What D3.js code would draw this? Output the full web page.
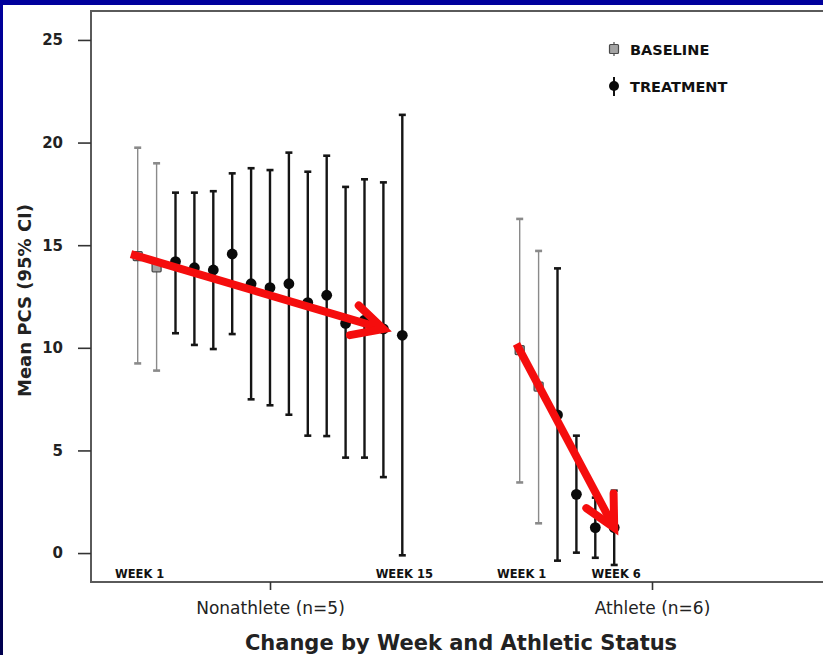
<!DOCTYPE html>
<html>
<head>
<meta charset="utf-8">
<script src="https://cdn.jsdelivr.net/npm/d3@7"></script>
<style>
  html, body { margin: 0; padding: 0; background: #fff; }
  svg { display: block; }
</style>
</head>
<body>
<svg id="chart" width="823" height="655"></svg>
<script>
// Groups on the x axis
const groups = ["Nonathlete (n=5)", "Athlete (n=6)"];
// Number of baseline weeks at the start of each group
const baselineWeeks = [2, 2];
// Week slots available inside each group cluster
const weekSlots = d3.range(1, 16);

// Mean PCS and 95% CI, week by week
const nonathleteMean = [14.47, 13.92, 14.2, 13.9, 13.79, 14.57, 13.12, 12.93, 13.12, 12.2, 12.56, 11.19, 11.35, 10.92, 10.61];
const nonathleteLow  = [9.24, 8.89, 10.71, 10.14, 9.94, 10.67, 7.49, 7.2, 6.74, 5.72, 5.7, 4.65, 4.65, 3.7, -0.11];
const nonathleteHigh = [19.75, 18.99, 17.56, 17.56, 17.63, 18.5, 18.75, 18.66, 19.51, 18.58, 19.36, 17.84, 18.21, 18.06, 21.35];

const athleteMean = [9.89, 8.11, 6.73, 2.86, 1.24, 1.24];
const athleteLow  = [3.44, 1.45, -0.37, 0.02, -0.23, -0.58];
const athleteHigh = [16.28, 14.72, 13.87, 5.72, 2.7, 3.04];

const yTicks = [0, 5, 10, 15, 20, 25];
const legendLabels = ["BASELINE", "TREATMENT"];
// Week captions under each cluster: [group index, week, text]
const weekCaptions = [[0, 1, "WEEK 1"], [0, 15, "WEEK 15"], [1, 1, "WEEK 1"], [1, 6, "WEEK 6"]];
// Trend arrows: [group index, from week, to week]
const trendArrows = [[0, 1, 14], [1, 1, 6]];

const svg = d3.select("#chart");
const W = 823, H = 655;
const frame = { left: 91, top: 11, bottom: 582, right: 830 };

// Blue slide border (top and left)
const defs = svg.append("defs");
const grad = defs.append("linearGradient").attr("id", "edge").attr("x1", 0).attr("y1", 0).attr("x2", 0).attr("y2", 1);
grad.append("stop").attr("offset", 0).attr("stop-color", "#00009c");
grad.append("stop").attr("offset", 1).attr("stop-color", "#00004e");
svg.append("rect").attr("x", 0).attr("y", 0).attr("width", W).attr("height", 5).attr("fill", "#00009c");
svg.append("rect").attr("x", 0).attr("y", 0).attr("width", 3).attr("height", H).attr("fill", "url(#edge)");

// Scales
const y = d3.scaleLinear().domain([-1.41, 26.41]).range([frame.bottom, frame.top]);
const x = d3.scalePoint().domain(groups).range([270, 652]);
const slot = d3.scalePoint().domain(weekSlots).range([-132.3, 132.3]);

// Build rows
const series = [
  [nonathleteMean, nonathleteLow, nonathleteHigh],
  [athleteMean, athleteLow, athleteHigh]
];
const rows = [];
series.forEach((s, gi) => {
  s[0].forEach((m, i) => {
    rows.push({
      group: groups[gi], week: i + 1, mean: m, low: s[1][i], high: s[2][i],
      phase: i < baselineWeeks[gi] ? "BASELINE" : "TREATMENT"
    });
  });
});
const px = d => x(d.group) + slot(d.week);

// Plot frame
svg.append("rect")
  .attr("x", frame.left).attr("y", frame.top)
  .attr("width", frame.right - frame.left).attr("height", frame.bottom - frame.top)
  .attr("fill", "none").attr("stroke", "#5a5a5a").attr("stroke-width", 2);

// Y axis
const yAxis = svg.append("g").attr("transform", `translate(${frame.left},0)`)
  .call(d3.axisLeft(y).tickValues(yTicks).tickSize(13).tickPadding(15).tickFormat(d3.format("d")));
yAxis.select(".domain").remove();
yAxis.selectAll(".tick line").attr("stroke", "#333").attr("stroke-width", 1.6);
yAxis.selectAll(".tick text").attr("fill", "#222")
  .style("font-family", "'DejaVu Sans', sans-serif").style("font-size", "15px").style("font-weight", "bold");

// X axis
const xAxis = svg.append("g").attr("transform", `translate(0,${frame.bottom})`)
  .call(d3.axisBottom(x).tickSize(8).tickPadding(12));
xAxis.select(".domain").remove();
xAxis.selectAll(".tick line").attr("stroke", "#333").attr("stroke-width", 1.6);
xAxis.selectAll(".tick text").attr("fill", "#222")
  .style("font-family", "'DejaVu Sans', sans-serif").style("font-size", "17px");

// Axis titles
svg.append("text")
  .attr("transform", `translate(31,${(y(25) + y(0)) / 2 + 4}) rotate(-90)`)
  .attr("text-anchor", "middle").attr("fill", "#222")
  .style("font-family", "'DejaVu Sans', sans-serif").style("font-size", "18px").style("font-weight", "bold")
  .text("Mean PCS (95% CI)");
svg.append("text")
  .attr("x", 461).attr("y", 650)
  .attr("text-anchor", "middle").attr("fill", "#222")
  .style("font-family", "'DejaVu Sans', sans-serif").style("font-size", "21px").style("font-weight", "bold")
  .text("Change by Week and Athletic Status");

// Error bars
const styleOf = {
  BASELINE: { stroke: "#8a8a8a", width: 1.4 },
  TREATMENT: { stroke: "#151515", width: 2.4 }
};
const bars = svg.append("g");
bars.selectAll("line.ci").data(rows).join("line")
  .attr("x1", px).attr("x2", px)
  .attr("y1", d => y(d.low)).attr("y2", d => y(d.high))
  .attr("stroke", d => styleOf[d.phase].stroke).attr("stroke-width", d => styleOf[d.phase].width);
["low", "high"].forEach(k => {
  bars.selectAll(null).data(rows).join("line")
    .attr("x1", d => px(d) - 3.5).attr("x2", d => px(d) + 3.5)
    .attr("y1", d => y(d[k])).attr("y2", d => y(d[k]))
    .attr("stroke", d => styleOf[d.phase].stroke).attr("stroke-width", 2.6);
});

// Markers
const marks = svg.append("g");
marks.selectAll("rect").data(rows.filter(d => d.phase === "BASELINE")).join("rect")
  .attr("x", d => px(d) - 4.5).attr("y", d => y(d.mean) - 4.5)
  .attr("width", 9).attr("height", 9).attr("rx", 1)
  .attr("fill", "#a4a4a4").attr("stroke", "#4a4a4a").attr("stroke-width", 1.3);
marks.selectAll("circle").data(rows.filter(d => d.phase === "TREATMENT")).join("circle")
  .attr("cx", px).attr("cy", d => y(d.mean)).attr("r", 5.4)
  .attr("fill", "#0a0a0a");

// Week captions
svg.append("g").selectAll("text").data(weekCaptions).join("text")
  .attr("x", d => x(groups[d[0]]) + slot(d[1]) + 2)
  .attr("y", 578)
  .attr("text-anchor", "middle").attr("fill", "#111")
  .style("font-family", "'DejaVu Sans', sans-serif").style("font-size", "11.5px").style("font-weight", "bold")
  .text(d => d[2]);

// Legend
const legend = svg.append("g").attr("transform", "translate(614,0)");
legend.append("line").attr("x1", 0).attr("x2", 0).attr("y1", 42).attr("y2", 56).attr("stroke", "#666").attr("stroke-width", 1.4);
legend.append("rect").attr("x", -4.5).attr("y", 44.5).attr("width", 9).attr("height", 9).attr("rx", 1)
  .attr("fill", "#a4a4a4").attr("stroke", "#4a4a4a").attr("stroke-width", 1.2);
legend.append("line").attr("x1", 0).attr("x2", 0).attr("y1", 77).attr("y2", 96).attr("stroke", "#111").attr("stroke-width", 2);
legend.append("circle").attr("cx", 0).attr("cy", 86).attr("r", 5).attr("fill", "#0a0a0a");
legend.selectAll("text").data(legendLabels).join("text")
  .attr("x", 16).attr("y", (d, i) => 55 + i * 37)
  .attr("fill", "#111")
  .style("font-family", "'DejaVu Sans', sans-serif").style("font-size", "14.5px").style("font-weight", "bold")
  .text(d => d);

// Trend arrows between the first baseline week and a later week
const arrowG = svg.append("g");
trendArrows.forEach(([gi, w0, w1]) => {
  const s = series[gi][0];
  const x0 = x(groups[gi]) + slot(w0), y0 = y(s[w0 - 1]);
  const x1 = x(groups[gi]) + slot(w1), y1 = y(s[w1 - 1]);
  const ang = Math.atan2(y1 - y0, x1 - x0);
  const back = 7;
  const sx = x0 - back * Math.cos(ang), sy = y0 - back * Math.sin(ang);
  arrowG.append("line")
    .attr("x1", sx).attr("y1", sy).attr("x2", x1).attr("y2", y1)
    .attr("stroke", "#f50d0d").attr("stroke-width", 8);
  const len = 34, spread = 27 * Math.PI / 180;
  const wing = a => [x1 - len * Math.cos(ang + a), y1 - len * Math.sin(ang + a)];
  arrowG.append("path")
    .attr("d", d3.line()([wing(-spread), [x1, y1], wing(spread)]))
    .attr("fill", "none").attr("stroke", "#f50d0d").attr("stroke-width", 8)
    .attr("stroke-linejoin", "miter").attr("stroke-linecap", "round");
});
</script>
</body>
</html>
